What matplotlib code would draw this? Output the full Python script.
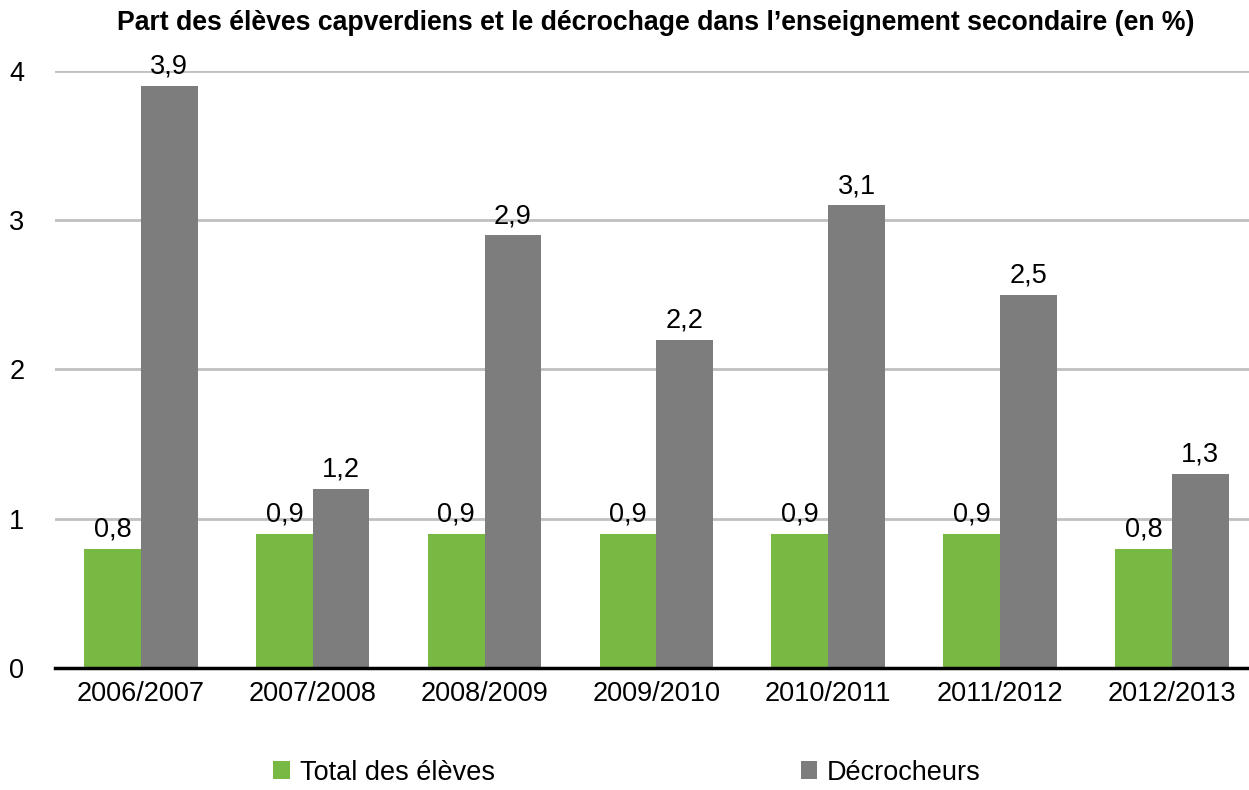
import numpy as np
import matplotlib.pyplot as plt

plt.rcParams['font.family'] = ['Liberation Sans', 'DejaVu Sans']

years = ['2006/2007', '2007/2008', '2008/2009', '2009/2010', '2010/2011', '2011/2012', '2012/2013']
total_eleves = [0.8, 0.9, 0.9, 0.9, 0.9, 0.9, 0.8]
decrocheurs = [3.9, 1.2, 2.9, 2.2, 3.1, 2.5, 1.3]
yticks = [0, 1, 2, 3, 4]

green = '#78b943'
grey = '#7d7d7d'
fs = 19.5

fig = plt.figure(figsize=(12.49, 7.9), dpi=100)
ax = fig.add_axes([0.044, 0.1544, 0.963, 0.756])

x = np.arange(len(years))
w = 0.33
b1 = ax.bar(x - w / 2, total_eleves, w, color=green, label='Total des élèves', zorder=3)
b2 = ax.bar(x + w / 2, decrocheurs, w, color=grey, label='Décrocheurs', zorder=3)

for bars, vals in [(b1, total_eleves), (b2, decrocheurs)]:
    for r, v in zip(bars, vals):
        ax.text(r.get_x() + r.get_width() / 2, v + 0.04, str(v).replace('.', ','),
                ha='center', va='bottom', fontsize=fs, zorder=4)

ax.set_xlim(-0.5, len(years) - 0.5)
ax.set_ylim(0, 4)
ax.set_yticks(yticks)
ax.set_yticklabels([str(t) for t in yticks])
ax.set_xticks(x)
ax.set_xticklabels(years)
ax.tick_params(axis='both', length=0, labelsize=fs)
ax.tick_params(axis='y', pad=22)
ax.tick_params(axis='x', pad=9)
ax.yaxis.grid(True, color='#c0c0c0', linewidth=2, zorder=0)
for s in ['top', 'right', 'left']:
    ax.spines[s].set_visible(False)
ax.spines['bottom'].set_linewidth(2.5)
ax.spines['bottom'].set_zorder(5)

fig.text(0.525, 0.971, 'Part des élèves capverdiens et le décrochage dans l\u2019enseignement secondaire (en %)',
         ha='center', va='center', fontsize=19.2, fontweight='bold')

fig.legend(handles=[b1, b2], loc='center', bbox_to_anchor=(0.502, 0.022), ncol=2,
           frameon=False, fontsize=fs, columnspacing=11.3, handlelength=0.6, handleheight=0.6,
           handletextpad=0.37)

fig.savefig('out.png', dpi=100)
